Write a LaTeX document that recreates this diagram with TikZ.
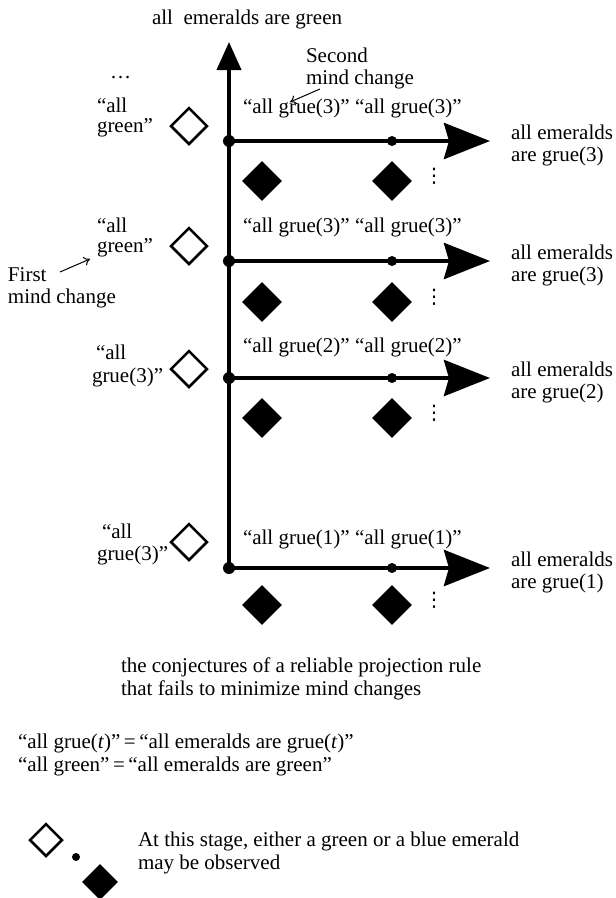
\documentclass[tikz,border=0pt]{standalone}
\usepackage{fontspec}
\setmainfont{Liberation Serif}
\newfontfamily\symfont{DejaVu Sans}
\usetikzlibrary{arrows.meta,shapes.geometric}
\begin{document}
\begin{tikzpicture}[x=1pt,y=-1pt,
  lbl/.style={font=\fontsize{21}{22}\selectfont, inner sep=0pt, outer sep=0pt, anchor=base west, align=left},
  lbltight/.style={lbl, font=\fontsize{21}{20}\selectfont},
  lblwide/.style={lbl, font=\fontsize{21}{23}\selectfont},
  hline/.style={line width=4.5pt, -{Stealth[length=46pt,width=36pt,inset=5pt]}},
  vline/.style={line width=4pt, -{Triangle[length=28pt,width=24pt]}},
  junction/.style={circle, fill=black, inner sep=0pt, minimum size=12pt},
  stagedot/.style={circle, fill=black, inner sep=0pt, minimum size=10pt},
  greendia/.style={diamond, draw=black, line width=2.5pt, fill=white, inner sep=0pt, minimum size=37pt},
  bluedia/.style={diamond, fill=black, inner sep=0pt, minimum size=40pt},
  vdotsnode/.style={inner sep=0pt, anchor=base, font=\symfont\fontsize{20}{22}\selectfont},
  note/.style={line width=1pt, -{To[length=6pt,width=9pt]}}
]
\useasboundingbox (0,0) rectangle (616,898);

% main axis
\coordinate (top) at (229,42);
\coordinate (j4) at (229,568);
\draw[vline] (j4) -- (top);
\node[lbl] (title) at (152,24) {all\ \ emeralds are green};
\node[lbl] (more) at (110,78) {…};

% rows
\foreach \i/\y/\yd/\yh/\t/\o in {1/141/181/126/3/28, 2/261/302/246/3/29, 3/378/418/369/2/26, 4/568/605/542/1/24}{
  \coordinate (j\i) at (229,\y);
  \coordinate (s\i) at (392,\y);
  \coordinate (e\i) at (490,\y);
  \draw[hline] (j\i) -- (e\i);
  \node[junction] (jd\i) at (j\i) {};
  \node[stagedot] (sd\i) at (s\i) {};
  \node[greendia] (g\i) at (189,\yh) {};
  \node[bluedia] (ba\i) at (262,\yd) {};
  \node[bluedia] (bb\i) at (392,\yd) {};
  \node[vdotsnode] (vd\i) at (434,\yd+1) {⋮};
  \node[lbl] (ca\i) at (243,\y-\o) {“all grue(\t)”};
  \node[lbl] (cb\i) at (355,\y-\o) {“all grue(\t)”};
  \node[lbl] (r\i) at (511,\y+20) {all emeralds\\are grue(\t)};
}

% left conjectures
\node[lbltight] (c1) at (97,132) {“all\\green”};
\node[lbltight] (c2) at (97,252) {“all\\green”};
\node[lblwide] (c3) at (92,382) {\hspace*{4pt}“all\\grue(3)”};
\node[lbl] (c4) at (97,560) {\hspace*{5pt}“all\\grue(3)”};

% mind change notes
\node[lbl] (second) at (306,84) {Second\\mind change};
\coordinate (secondfrom) at (320,89);
\coordinate (secondto) at (290,102);
\draw[note] (secondfrom) -- (secondto);
\node[lbl] (first) at (8,303) {First\\mind change};
\coordinate (firstfrom) at (60,272);
\coordinate (firstto) at (90,259);
\draw[note] (firstfrom) -- (firstto);

% captions
\node[lblwide] (caption) at (121,695) {the conjectures of a reliable projection rule\\that fails to minimize mind changes};
\node[lblwide] (defs) at (18,771) {“all grue(\textit{t})”\,=\,“all emeralds are grue(\textit{t})”\\“all green”\,=\,“all emeralds are green”};

% legend
\node[greendia, minimum size=33pt] (lg) at (46,840) {};
\node[circle, fill=black, inner sep=0pt, minimum size=8pt] (ld) at (76,857) {};
\node[bluedia, minimum size=36pt] (lb) at (100,882) {};
\node[lblwide] (legend) at (138,869) {At this stage, either a green or a blue emerald\\may be observed};
\end{tikzpicture}
\end{document}
